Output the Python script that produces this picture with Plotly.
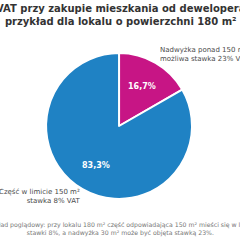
import math
import plotly.graph_objects as go

categories = ["Nadwyżka ponad 150 m²", "Część w limicie 150 m²"]
area_m2 = [30, 150]
colors = ["#c71585", "#1f82c4"]
outer_labels = [
    "Nadwyżka ponad 150 m²<br>możliwa stawka 23% VAT",
    "Część w limicie 150 m²<br>stawka 8% VAT",
]
title_text = "VAT przy zakupie mieszkania od dewelopera<br>przykład dla lokalu o powierzchni 180 m²"
note_text = ("Przykład poglądowy: przy lokalu 180 m² część odpowiadająca 150 m² mieści się w limicie<br>"
             "stawki 8%, a nadwyżka 30 m² może być objęta stawką 23%.")

W = H = 240
dom_x = [0.192, 0.8]
dom_y = [0.171, 0.779]

fig = go.Figure(go.Pie(
    labels=categories,
    values=area_m2,
    sort=False,
    direction="clockwise",
    rotation=0,
    marker=dict(colors=colors, line=dict(color="white", width=2)),
    textinfo="none",
    hoverinfo="label+percent",
    showlegend=False,
    domain=dict(x=dom_x, y=dom_y),
))

# inside percentage labels placed along each slice's bisector
total = sum(area_m2)
cx = (dom_x[0] + dom_x[1]) / 2
cy = (dom_y[0] + dom_y[1]) / 2
r_px = (dom_y[1] - dom_y[0]) * H / 2
cum = 0
for v in area_m2:
    mid = (cum + v / 2) / total * 2 * math.pi
    cum += v
    d = 0.62 * r_px
    ax = cx + d * math.sin(mid) / W
    ay = cy + d * math.cos(mid) / H
    pct = f"{v / total * 100:.1f}%".replace(".", ",")
    fig.add_annotation(x=ax, y=ay, xref="paper", yref="paper", text=pct, showarrow=False,
                       xanchor="center", yanchor="middle",
                       font=dict(family="DejaVu Sans", size=8, color="white", weight="bold"))

fig.add_annotation(x=0.5, y=0.995, xref="paper", yref="paper", text=title_text,
                   showarrow=False, xanchor="center", yanchor="top", align="center",
                   font=dict(family="DejaVu Sans", size=10, color="#333", weight="bold"))
fig.add_annotation(x=0.658, y=0.771, xref="paper", yref="paper", text=outer_labels[0],
                   showarrow=False, xanchor="left", yanchor="middle", align="left",
                   font=dict(family="DejaVu Sans", size=7, color="#4a4a4a"))
fig.add_annotation(x=0.342, y=0.181, xref="paper", yref="paper", text=outer_labels[1],
                   showarrow=False, xanchor="right", yanchor="middle", align="right",
                   font=dict(family="DejaVu Sans", size=7, color="#4a4a4a"))
fig.add_annotation(x=0.5, y=0.044, xref="paper", yref="paper", text=note_text,
                   showarrow=False, xanchor="center", yanchor="middle", align="center",
                   font=dict(family="DejaVu Sans", size=6.2, color="#777"))

fig.update_layout(
    width=W, height=H,
    margin=dict(l=0, r=0, t=0, b=0),
    paper_bgcolor="white",
)

fig.write_html("out.html")
